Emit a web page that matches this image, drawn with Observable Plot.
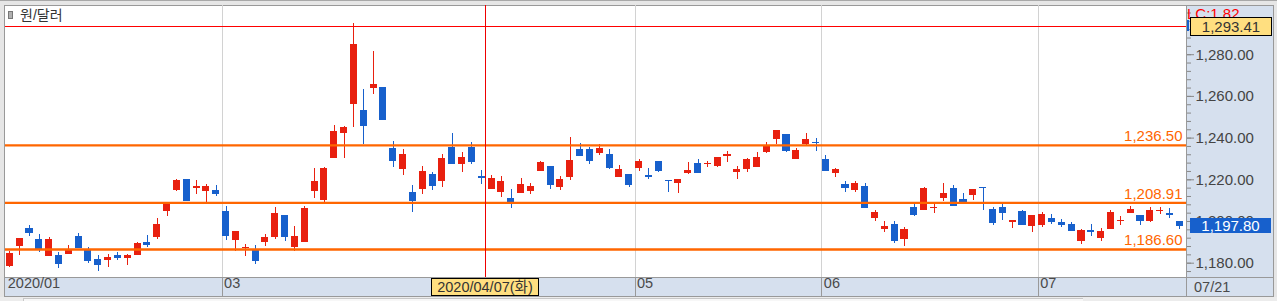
<!DOCTYPE html>
<html><head><meta charset="utf-8">
<script src="https://cdn.jsdelivr.net/npm/d3@7"></script>
<script src="https://cdn.jsdelivr.net/npm/@observablehq/plot@0.6"></script>
<style>
html,body{margin:0;padding:0;background:#e6e6e6;}
#wrap{position:relative;width:1277px;height:301px;overflow:hidden;background:#e6e6e6;font-family:"Liberation Sans","Noto Sans CJK KR",sans-serif;}
.abs{position:absolute;box-sizing:border-box;}
.box{position:absolute;box-sizing:border-box;text-align:center;white-space:nowrap;}
svg{position:absolute;left:0;top:0;}
</style></head><body>
<div id="wrap">
  <div class="abs" style="left:0;top:0;width:1277px;height:1px;background:#a8a8a8"></div>
  <div class="abs" style="left:4px;top:5px;width:1270px;height:292px;border:1px solid #999;background:#d6e0ee"></div>
  <div class="abs" style="left:5px;top:6px;width:1181px;height:271px;background:#fff"></div>
  <div class="abs" style="left:5px;top:277px;width:1268px;height:1px;background:#999"></div>
  <div class="abs" style="left:1186px;top:6px;width:1px;height:290px;background:#999"></div>
  <div class="abs" style="left:0;top:297px;width:1277px;height:4px;background:#ececec"></div>
  <div class="abs" style="left:23px;top:298px;width:1060px;height:3px;background:#f7f7f7;border-top:1px solid #c8c8c8;border-left:1px solid #c8c8c8"></div>
  <div class="abs" style="left:8px;top:11px;width:5px;height:8px;background:#b0b0b0;border:1px solid #777"></div>
  <div class="abs" style="left:20px;top:6px;font-size:14px;color:#333;line-height:18px">원/달러</div>
</div>
<script>
// USD/KRW daily candles, 2020-01-30 .. 2020-07-21 (120 trading days)
const opens = [1178.6,1188.2,1196.6,1191.4,1183.4,1183.5,1184.3,1192.8,1186.6,1181.8,1181.4,1183.7,1182.4,1183.8,1189.9,1192.2,1204.9,1215.0,1220.1,1216.0,1214.5,1214.9,
 1204.9,1191.0,1186.9,1186.6,1189.9,1192.5,1202.9,1187.7,1190.1,1214.5,1210.2,1230.4,1242.3,1256.3,1253.2,1263.9,1264.3,1235.0,1225.1,1213.9,1215.5,1222.5,
 1219.3,1235.5,1227.5,1235.5,1221.4,1215.3,1214.1,1211.0,1213.4,1214.4,1224.0,1226.4,1216.3,1221.1,1234.5,1234.5,1232.6,1232.1,1221.1,1222.5,
 1225.4,1222.1,1228.8,1219.7,1218.2,1223.0,1227.8,1227.3,1226.4,1231.2,1223.5,1224.9,1225.9,1233.1,1239.3,1241.7,1229.7,1236.9,1237.9,
 1229.7,1223.0,1217.7,1214.9,1216.8,1201.4,1196.2,1198.6,1191.4,1206.7,1205.3,1206.2,1211.0,1215.8,1210.6,1212.5,1216.3,1205.8,1206.7,1199.5,1204.8,1197.6,
 1198.1,1201.4,1199.5,1198.6,1190.4,1195.7,1191.8,1196.2,1200.0,1203.8,1202.9,1200.0,1204.8,1203.8,1200.0];
const highs = [1185.6,1191.9,1198.1,1193.8,1192.2,1185.1,1188.5,1194.4,1187.5,1183.7,1184.2,1185.0,1184.2,1189.9,1193.3,1201.4,1208.3,1220.1,1220.1,1219.7,1217.7,1217.3,
 1207.2,1195.2,1189.0,1188.5,1193.8,1206.7,1202.9,1197.6,1207.2,1225.6,1225.9,1246.0,1245.6,1295.0,1263.3,1281.5,1264.3,1238.4,1234.5,1217.3,1226.4,1223.5,
 1232.1,1242.2,1233.1,1237.9,1224.5,1222.1,1221.6,1215.3,1220.6,1218.2,1228.8,1226.4,1221.6,1240.3,1237.4,1235.5,1236.9,1234.5,1226.9,1222.5,
 1229.7,1225.4,1228.8,1219.7,1220.1,1228.3,1229.7,1228.8,1230.7,1233.6,1226.4,1230.2,1233.1,1237.9,1243.6,1241.7,1235.0,1242.2,1239.8,
 1231.7,1225.4,1219.2,1219.2,1218.2,1205.3,1200.0,1200.0,1197.1,1208.2,1216.3,1209.1,1218.2,1217.3,1213.4,1215.3,1216.3,1206.7,1208.2,1200.5,1205.3,1202.9,
 1204.3,1203.4,1201.0,1199.5,1196.2,1198.6,1196.6,1205.3,1202.4,1207.2,1202.9,1206.7,1206.7,1206.2,1200.0];
const lows = [1178.1,1183.8,1193.0,1185.3,1183.4,1177.6,1184.3,1186.9,1180.0,1176.2,1178.1,1181.3,1179.0,1183.8,1187.7,1191.2,1202.5,1214.5,1209.6,1213.1,1209.1,1212.1,
 1190.9,1185.6,1183.2,1179.4,1188.2,1191.2,1190.6,1185.8,1190.1,1211.2,1209.3,1230.4,1230.4,1245.2,1237.1,1261.1,1248.6,1226.0,1222.2,1204.5,1213.1,1215.0,
 1216.5,1227.5,1223.6,1227.5,1217.9,1215.3,1211.7,1206.4,1213.4,1213.0,1224.0,1215.3,1214.9,1219.7,1231.2,1227.4,1231.7,1224.9,1221.1,1216.3,
 1224.0,1220.1,1223.5,1213.9,1213.4,1222.5,1223.0,1225.9,1225.9,1228.3,1220.1,1223.5,1225.9,1232.6,1236.9,1233.1,1229.7,1236.4,1233.6,
 1224.0,1221.1,1213.9,1213.9,1206.2,1200.0,1194.7,1189.4,1188.0,1202.4,1205.3,1203.8,1209.6,1207.2,1209.1,1210.1,1205.3,1198.1,1200.5,1196.6,1198.1,1194.7,
 1197.1,1198.6,1197.1,1195.2,1189.0,1192.8,1190.4,1196.2,1198.1,1203.8,1198.1,1199.5,1203.4,1201.4,1196.2];
const closes = [1184.6,1191.9,1194.4,1186.6,1191.4,1179.5,1186.6,1186.9,1181.0,1179.0,1182.9,1182.4,1183.7,1189.4,1188.6,1198.6,1208.3,1219.7,1209.6,1216.9,1216.8,1213.0,
 1193.0,1195.2,1187.5,1181.0,1192.3,1203.8,1192.5,1192.8,1206.2,1219.2,1225.4,1243.2,1245.1,1284.9,1245.7,1265.7,1248.6,1228.9,1232.1,1209.7,1224.0,1216.9,
 1230.2,1227.5,1230.7,1228.4,1220.5,1220.6,1219.2,1209.1,1217.7,1216.8,1228.3,1217.3,1220.1,1229.3,1231.2,1228.8,1235.0,1225.4,1224.9,1217.3,
 1228.8,1221.1,1224.0,1219.2,1220.1,1224.5,1223.0,1227.8,1230.7,1232.1,1224.9,1229.7,1230.7,1236.0,1243.6,1233.6,1234.1,1239.3,1237.4,
 1224.0,1224.9,1215.8,1218.2,1206.2,1204.3,1197.6,1190.4,1196.2,1202.9,1215.8,1206.7,1213.4,1207.2,1209.1,1215.3,1215.8,1199.0,1203.8,1200.5,1198.1,1202.9,
 1203.4,1199.5,1198.1,1195.2,1195.7,1194.7,1195.2,1204.3,1200.5,1205.8,1200.0,1205.3,1205.3,1202.9,1197.8];

const monthLabels = ["2020/01", "03", "05", "06", "07"];
const monthStarts = [0, 22, 64, 83, 105];          // index of first candle of each labelled month
const levelLines = [1236.50, 1208.91, 1186.60];     // orange horizontal lines
const peakLine = 1293.41;                           // red high line
const majorTicks = [1180, 1200, 1220, 1240, 1260, 1280];
const minorTicks = d3.range(1176, 1304, 4);
const cursorIndex = 48.4;                           // 2020/04/07
const cursorLabel = "2020/04/07(화)";
const lastDateLabel = "07/21";
const lcLabel = "LC:1.82";

const RED = "#e8200f", BLUE = "#1760cc", ORANGE = "#ff6600";
const fmt = d3.format(",.2f");
const idx = d3.range(opens.length);
const upIdx = idx.filter(i => closes[i] >= opens[i]);
const dnIdx = idx.filter(i => closes[i] < opens[i]);
const bodyW = 0.36;

const chart = Plot.plot({
  width: 1277, height: 301,
  marginTop: 5, marginBottom: 24, marginLeft: 5, marginRight: 91,
  style: {background: "transparent", fontFamily: "'Liberation Sans','Noto Sans CJK KR',sans-serif", fontSize: "15px", color: "#444", overflow: "visible"},
  x: {type: "linear", domain: [-0.437, 119.68], axis: null},
  y: {domain: [1173.14, 1303.6], axis: null},
  marks: [
    Plot.ruleX(monthStarts.slice(1), {x: d => d - 0.41, stroke: "#d2d2d2", shapeRendering: "crispEdges"}),
    Plot.ruleX(upIdx, {x: i => i, y1: i => lows[i], y2: i => highs[i], stroke: RED, shapeRendering: "crispEdges"}),
    Plot.ruleX(dnIdx, {x: i => i, y1: i => lows[i], y2: i => highs[i], stroke: BLUE, shapeRendering: "crispEdges"}),
    Plot.rect(upIdx, {x1: i => i - bodyW, x2: i => i + bodyW, y1: i => opens[i], y2: i => closes[i], fill: RED, shapeRendering: "crispEdges"}),
    Plot.rect(dnIdx, {x1: i => i - bodyW, x2: i => i + bodyW, y1: i => opens[i], y2: i => closes[i], fill: BLUE, shapeRendering: "crispEdges"}),
    Plot.ruleY(levelLines, {stroke: ORANGE, strokeWidth: 2.4}),
    Plot.ruleY([peakLine], {stroke: "#ff0000", shapeRendering: "crispEdges"}),
    Plot.ruleX([cursorIndex], {stroke: "#ee0000", shapeRendering: "crispEdges"}),
    Plot.text(levelLines, {y: d => d, frameAnchor: "right", textAnchor: "end", dx: -4, dy: -9, text: d => fmt(d), fill: ORANGE, fontSize: 15}),
    Plot.text(monthLabels, {x: (d, i) => monthStarts[i] - 0.41, frameAnchor: "bottom", textAnchor: "start", dx: 2, dy: 10, text: d => d, fill: "#4a4a4a", fontSize: 14.5}),
    Plot.axisY({anchor: "right", ticks: minorTicks, tickSize: 4, tickFormat: () => "", stroke: "#888", label: null}),
    Plot.axisY({anchor: "right", ticks: majorTicks, tickSize: 7, tickPadding: 2, tickFormat: fmt, fontSize: 15, fill: "#444", stroke: "#888", label: null})
  ]
});

const wrap = document.getElementById("wrap");
wrap.appendChild(chart);
const sx = chart.scale("x"), sy = chart.scale("y");

function addDiv(style, text) {
  const d = document.createElement("div");
  d.className = "box";
  Object.assign(d.style, style);
  if (text != null) d.textContent = text;
  wrap.appendChild(d);
  return d;
}
// month separators inside the date strip
monthStarts.slice(1).forEach(m => {
  addDiv({left: Math.round(sx.apply(m - 0.41)) + "px", top: "277px", width: "1px", height: "19px", background: "#999"});
});
// LC label and marker
addDiv({left: "1187px", top: "5px", fontSize: "15px", color: "#ff0000", lineHeight: "18px", textAlign: "left"}, lcLabel);
addDiv({left: "1187px", top: Math.round(sy.apply(peakLine) - 6) + "px", width: "2px", height: "11px", background: BLUE});
// peak price box
addDiv({left: "1190px", top: Math.round(sy.apply(peakLine) - 9) + "px", width: "82px", height: "19px",
  background: "#ffdf80", border: "1px solid #000", fontSize: "15px", color: "#333", lineHeight: "17px"}, fmt(peakLine));
// last close box
const lastClose = closes[closes.length - 1];
addDiv({left: "1190px", top: Math.round(sy.apply(lastClose) - 7.5) + "px", width: "81px", height: "15px",
  background: BLUE, fontSize: "15px", color: "#fff", lineHeight: "15px"}, fmt(lastClose));
// cursor date box
const cx = sx.apply(cursorIndex);
addDiv({left: Math.round(cx - 54) + "px", top: "278px", width: "108px", height: "18px",
  background: "#ffdf80", border: "1px solid #000", fontSize: "14.5px", color: "#333", lineHeight: "16px"}, cursorLabel);
// last date label
addDiv({left: "1194px", top: "278px", fontSize: "14.5px", color: "#4a4a4a", lineHeight: "18px", textAlign: "left"}, lastDateLabel);
</script>
</body></html>
